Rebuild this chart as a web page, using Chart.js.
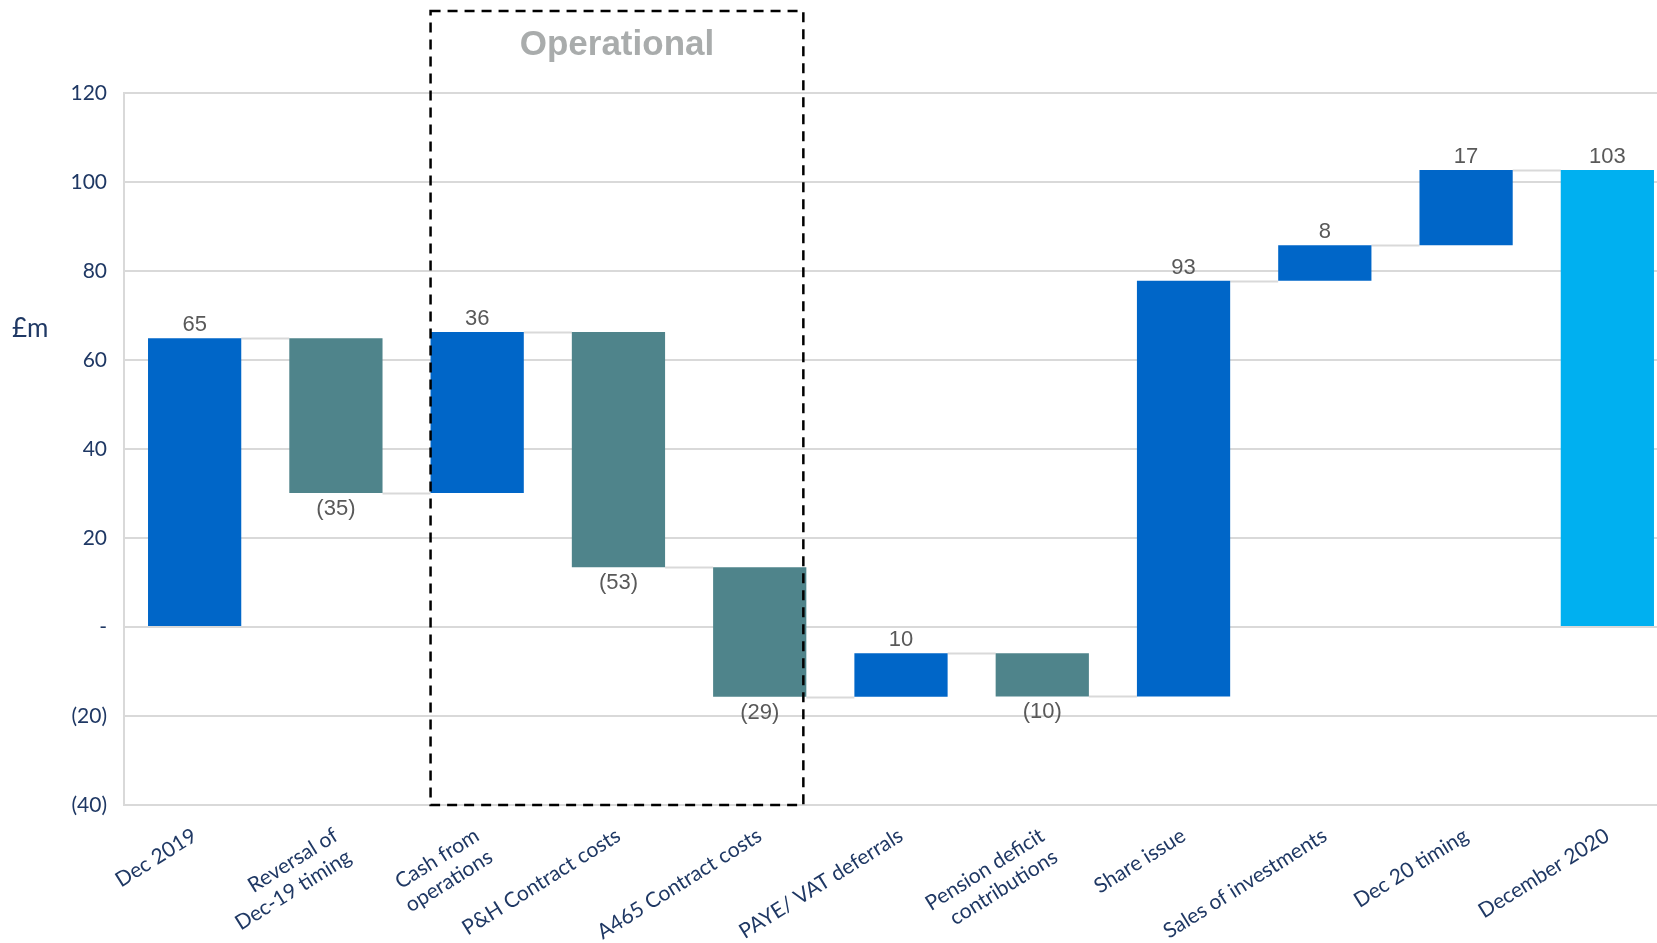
<!DOCTYPE html>
<html>
<head>
<meta charset="utf-8">
<script src="https://cdn.jsdelivr.net/npm/chart.js@4/dist/chart.umd.min.js"></script>
<style>
  html, body { margin: 0; padding: 0; background: #ffffff; overflow: hidden; width: 1657px; height: 943px; }
  #wrap { position: absolute; left: 0; top: 0; width: 1678px; height: 943px; }
</style>
</head>
<body>
<div id="wrap"><canvas id="c"></canvas></div>
<script>
// ---- data ----
const categories = [
  "Dec 2019",
  ["Reversal of", "Dec-19 timing"],
  ["Cash from", "operations"],
  "P&H Contract costs",
  "A465 Contract costs",
  "PAYE/ VAT deferrals",
  ["Pension deficit", "contributions"],
  "Share issue",
  "Sales of investments",
  "Dec 20 timing",
  "December 2020"
];
const startValues = [0, 64.9, 30.1, 66.3, 13.4, -15.7, -5.9, -15.6, 77.8, 85.8, 0];
const endValues   = [64.9, 30.1, 66.3, 13.4, -15.7, -5.9, -15.6, 77.8, 85.8, 102.7, 102.7];
const valueLabels = ["65", "(35)", "36", "(53)", "(29)", "10", "(10)", "93", "8", "17", "103"];
const barKinds    = ["total", "decrease", "increase", "decrease", "decrease", "increase", "decrease", "increase", "increase", "increase", "final"];
const yTickValues = [-40, -20, 0, 20, 40, 60, 80, 100, 120];
const yTickLabels = ["(40)", "(20)", "-", "20", "40", "60", "80", "100", "120"];
const groupLabel  = "Operational";
const groupFirst  = 2;
const groupLast   = 4;
const unitLabel   = "£m";
const unitLevel   = 67;

const kindColors = { total: "#0066C8", increase: "#0066C8", decrease: "#4F848B", final: "#00B0F0" };
const navy = "#1F3864";

const floatData = startValues.map((s, i) => [s, endValues[i]]);

const overlayPlugin = {
  id: "overlay",
  beforeDatasetsDraw(chart) {
    const ctx = chart.ctx;
    const meta = chart.getDatasetMeta(0);
    const y = chart.scales.y;
    ctx.save();
    ctx.strokeStyle = "#D9D9D9";
    ctx.lineWidth = 2;
    for (let i = 0; i < meta.data.length - 1; i++) {
      const a = meta.data[i], b = meta.data[i + 1];
      const py = Math.round(y.getPixelForValue(endValues[i])) + 0.5;
      ctx.beginPath();
      ctx.moveTo(a.x + a.width / 2, py);
      ctx.lineTo(b.x - b.width / 2, py);
      ctx.stroke();
    }
    ctx.restore();
  },
  afterDatasetsDraw(chart) {
    const ctx = chart.ctx;
    const meta = chart.getDatasetMeta(0);
    const y = chart.scales.y;
    ctx.save();
    ctx.font = "22px 'Liberation Sans', Arial, sans-serif";
    ctx.fillStyle = "#595959";
    ctx.textAlign = "center";
    ctx.textBaseline = "middle";
    meta.data.forEach((bar, i) => {
      const top = Math.min(bar.y, bar.base);
      const bottom = Math.max(bar.y, bar.base);
      if (barKinds[i] === "decrease") {
        ctx.fillText(valueLabels[i], bar.x, bottom + 16);
      } else {
        ctx.fillText(valueLabels[i], bar.x, top - 13);
      }
    });
    const first = meta.data[groupFirst], last = meta.data[groupLast];
    const x0 = first.x - first.width / 2;
    const x1 = last.x + last.width / 2 - 3;
    const y0 = 11;
    const y1 = chart.chartArea.bottom;
    ctx.strokeStyle = "#000000";
    ctx.lineWidth = 2.5;
    ctx.setLineDash([10, 7]);
    ctx.strokeRect(x0, y0, x1 - x0, y1 - y0);
    ctx.setLineDash([]);
    ctx.font = "bold 35px 'Liberation Sans', Arial, sans-serif";
    ctx.fillStyle = "#A9ACAC";
    ctx.fillText(groupLabel, (x0 + x1) / 2, 45);
    ctx.font = "26px Lato, sans-serif";
    ctx.fillStyle = navy;
    ctx.textAlign = "left";
    ctx.fillText(unitLabel, 12, y.getPixelForValue(unitLevel));
    ctx.restore();
  }
};

new Chart(document.getElementById("c"), {
  type: "bar",
  data: {
    labels: categories,
    datasets: [{
      data: floatData,
      backgroundColor: barKinds.map(k => kindColors[k]),
      borderWidth: 0,
      borderSkipped: false,
      categoryPercentage: 1.0,
      barPercentage: 0.66
    }]
  },
  options: {
    responsive: true,
    maintainAspectRatio: false,
    animation: false,
    layout: { padding: { top: 93, left: 0, right: 0, bottom: 0 } },
    plugins: { legend: { display: false }, tooltip: { enabled: false } },
    scales: {
      x: {
        grid: { display: false, drawTicks: false },
        border: { display: true, color: "#D9D9D9", width: 2 },
        ticks: {
          color: navy,
          font: { family: "Lato", size: 21 },
          minRotation: 32,
          maxRotation: 32,
          padding: 18,
          autoSkip: false
        },
        afterFit(scale) { scale.height = 943 - 805; }
      },
      y: {
        min: -40,
        max: 120,
        afterBuildTicks(scale) { scale.ticks = yTickValues.map(v => ({ value: v })); },
        grid: { color: "#D9D9D9", lineWidth: 2, drawTicks: false },
        border: { display: true, color: "#D9D9D9", width: 2 },
        ticks: {
          color: navy,
          font: { family: "Lato", size: 21 },
          padding: 17,
          callback(value) {
            const idx = yTickValues.indexOf(value);
            return idx >= 0 ? yTickLabels[idx] : "";
          }
        },
        afterFit(scale) { scale.width = 124; }
      }
    }
  },
  plugins: [overlayPlugin]
});
</script>
</body>
</html>
